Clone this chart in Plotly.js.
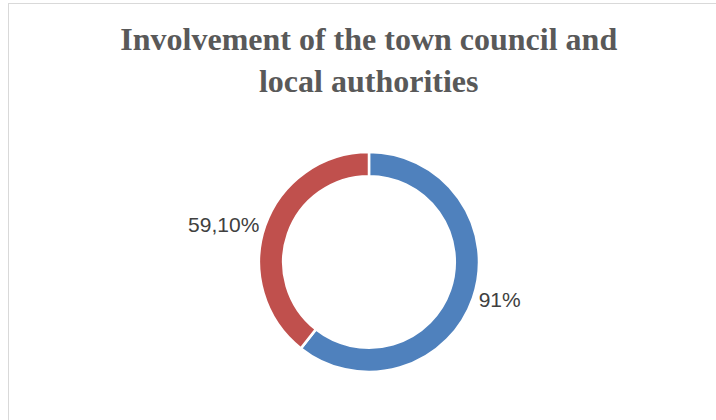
<!DOCTYPE html>
<html>
<head>
<meta charset="utf-8">
<script src="https://cdn.plot.ly/plotly-3.0.1.min.js"></script>
<style>
  html, body { margin: 0; padding: 0; background: #ffffff; overflow: hidden; }
  #frame { position: absolute; left: 8px; top: 3px; width: 900px; height: 600px; border: 1px solid #d9d9d9; box-sizing: border-box; }
  #chart { position: absolute; left: 0; top: 0; width: 716px; height: 420px; }
</style>
</head>
<body>
<div id="frame"></div>
<div id="chart"></div>
<script>
const categories = ["Involved", "Not involved"];
const values = [91, 59.1];
const valueLabels = ["91%", "59,10%"];
const sliceColors = ["#4F81BD", "#C0504D"];
const chartTitle = "Involvement of the town council and<br>local authorities";

const trace = {
  type: "pie",
  labels: categories,
  values: values,
  text: valueLabels,
  textinfo: "text",
  textposition: "outside",
  hole: 0.78,
  sort: false,
  direction: "clockwise",
  rotation: 0,
  marker: { colors: sliceColors, line: { color: "#ffffff", width: 2.5 } },
  outsidetextfont: { family: "Liberation Sans, Arial, sans-serif", size: 21, color: "#404040" },
  automargin: false,
  showlegend: false,
  hoverinfo: "none",
  domain: { x: [0.3617, 0.6690], y: [0.1143, 0.6381] }
};

const layout = {
  width: 716,
  height: 420,
  margin: { l: 0, r: 0, t: 0, b: 0 },
  paper_bgcolor: "rgba(0,0,0,0)",
  plot_bgcolor: "rgba(0,0,0,0)",
  showlegend: false,
  title: {
    text: chartTitle,
    x: 0.515,
    xanchor: "center",
    y: 0.88,
    yanchor: "top",
    font: { family: "Liberation Serif, Times New Roman, serif", size: 32, color: "#595959", weight: "bold" }
  }
};

Plotly.newPlot("chart", [trace], layout, { displayModeBar: false, staticPlot: true });
</script>
</body>
</html>
